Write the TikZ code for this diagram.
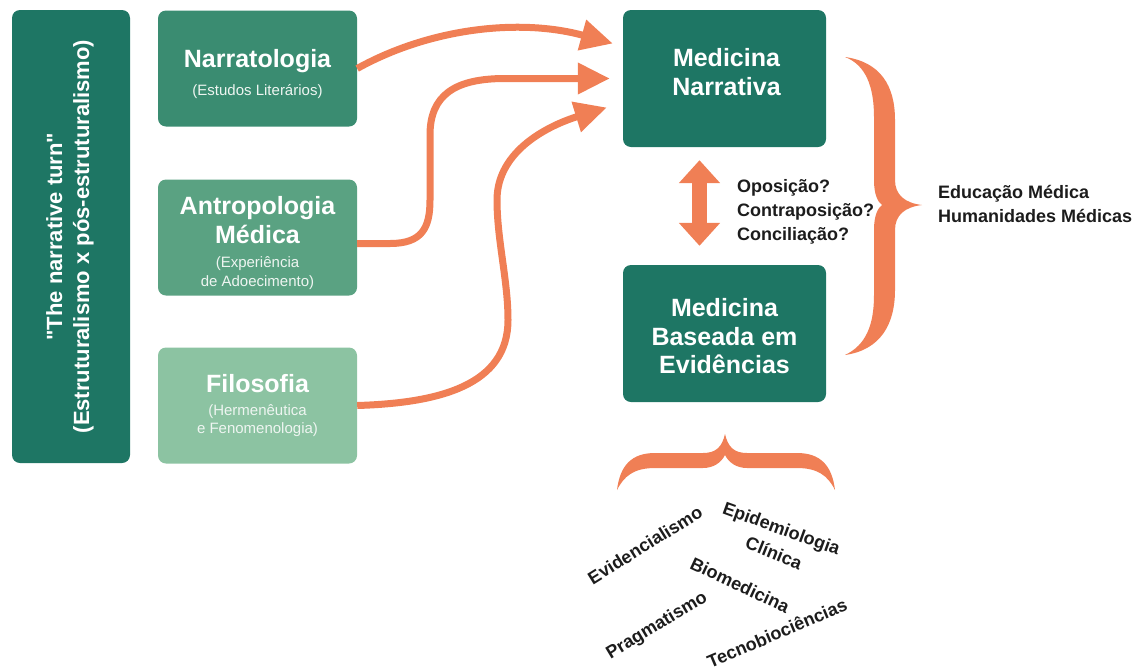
\documentclass[tikz,border=0pt]{standalone}
\usepackage{fontspec}
\setmainfont{Liberation Sans}
\usetikzlibrary{arrows.meta,calc}

\definecolor{deepteal}{HTML}{1E7664}
\definecolor{narrgreen}{HTML}{3A8C71}
\definecolor{antrgreen}{HTML}{5AA282}
\definecolor{filogreen}{HTML}{8CC3A2}
\definecolor{flame}{HTML}{F07F55}
\definecolor{ink}{HTML}{1C1C1C}
\definecolor{paletext}{HTML}{EEF5F1}

\begin{document}
\begin{tikzpicture}[x=1pt,y=-1pt,
  panel/.style={rounded corners=8pt, inner sep=0pt, draw=none},
  paneltitle/.style={anchor=base, inner sep=0pt, text=white,
    font=\fontsize{25}{30}\selectfont\bfseries},
  panelsub/.style={anchor=base, inner sep=0pt, text=paletext,
    font=\fontsize{15}{20}\selectfont},
  remark/.style={anchor=base west, inner sep=0pt, text=ink,
    font=\fontsize{18}{24}\selectfont\bfseries},
  tagword/.style={inner sep=0pt, text=ink,
    font=\fontsize{18}{22}\selectfont\bfseries},
  flow/.style={draw=flame, line width=7pt,
    -{Triangle[length=32pt,width=30pt]}},
  twoway/.style={draw=flame, line width=15pt,
    {Triangle[length=23pt,width=40pt]}-{Triangle[length=23pt,width=40pt]}},
]
\useasboundingbox (0,0) rectangle (1146,670);

% ---- left column: the narrative turn ----
\node[panel, fill=deepteal, rotate=90, minimum width=453pt, minimum height=118pt]
  (turn) at (71,236.5) {};
\node[rotate=90, align=center, inner sep=0pt, text=white,
  font=\fontsize{22}{27}\selectfont\bfseries]
  (turn-text) at ($(turn.center)+(-1,0)$)
  {\textquotedbl The narrative turn\textquotedbl\\(Estruturalismo x pós-estruturalismo)};

% ---- source disciplines ----
\node[panel, fill=narrgreen, minimum width=199pt, minimum height=116pt]
  (narr) at (257.5,68.5) {};
\node[paneltitle] (narr-t) at ($(narr.center)+(0,-1.5)$) {Narratologia};
\node[panelsub]   (narr-s) at ($(narr.center)+(0,26.5)$) {(Estudos Literários)};

\node[panel, fill=antrgreen, minimum width=199pt, minimum height=116pt]
  (antr) at (257.5,237.5) {};
\node[paneltitle] (antr-t1) at ($(antr.center)+(0,-23.5)$) {Antropologia};
\node[paneltitle] (antr-t2) at ($(antr.center)+(0,5.5)$) {Médica};
\node[panelsub]   (antr-s1) at ($(antr.center)+(0,29.5)$) {(Experiência};
\node[panelsub]   (antr-s2) at ($(antr.center)+(0,48.5)$) {de Adoecimento)};

\node[panel, fill=filogreen, minimum width=199pt, minimum height=116pt]
  (filo) at (257.5,405.5) {};
\node[paneltitle] (filo-t)  at ($(filo.center)+(0,-13.5)$) {Filosofia};
\node[panelsub]   (filo-s1) at ($(filo.center)+(0,9.5)$) {(Hermenêutica};
\node[panelsub]   (filo-s2) at ($(filo.center)+(0,28)$) {e Fenomenologia)};

% ---- the two medicines ----
\node[panel, fill=deepteal, minimum width=203pt, minimum height=137pt]
  (mn) at (724.5,78.5) {};
\node[paneltitle] (mn-t1) at ($(mn.center)+(2,-12.5)$) {Medicina};
\node[paneltitle] (mn-t2) at ($(mn.center)+(2,16.5)$) {Narrativa};

\node[panel, fill=deepteal, minimum width=203pt, minimum height=137pt]
  (mbe) at (724.5,333.5) {};
\node[paneltitle] (mbe-t1) at ($(mbe.center)+(0,-17.5)$) {Medicina};
\node[paneltitle] (mbe-t2) at ($(mbe.center)+(0,11.5)$) {Baseada em};
\node[paneltitle] (mbe-t3) at ($(mbe.center)+(0,39.5)$) {Evidências};

% ---- flows into narrative medicine ----
\draw[flow] (narr.east) .. controls (430,28) and (520,18) ..
  ($(mn.west)+(-10,-35)$);
\draw[flow] ($(antr.east)+(0,6)$) -- (390,243.5)
  .. controls (422,243.5) and (430,228) .. (430,200) -- (430,135)
  .. controls (430,95) and (455,78.5) .. (505,78.5)
  -- ($(mn.west)+(-13,0)$);
\draw[flow] (filo.east) .. controls (440,403) and (508,385) .. (508,320)
  .. controls (508,280) and (497,240) .. (497,200)
  .. controls (497,150) and (550,125) .. ($(mn.west)+(-16,29)$);

% ---- relation between the two ----
\draw[twoway] ($(mn.south)+(-25,13)$) -- ($(mbe.north)+(-25,-19)$);
\node[remark] (q1) at (737,192) {Oposição?};
\node[remark] (q2) at (737,216) {Contraposição?};
\node[remark] (q3) at (737,240) {Conciliação?};

% ---- right brace ----
\fill[flame] (845,57) .. controls (880,62) and (895,85) .. (895,120)
  -- (895,180) .. controls (895,195) and (905,203) .. (922,205)
  .. controls (905,207) and (895,215) .. (895,230)
  -- (895,290) .. controls (895,325) and (880,350) .. (845,355)
  .. controls (866,345) and (874,325) .. (874,295)
  -- (874,230) .. controls (874,215) and (878,208) .. (882,205)
  .. controls (878,202) and (874,195) .. (874,180)
  -- (874,117) .. controls (874,87) and (866,65) .. (845,57) -- cycle;
\node[remark] (edu) at (938,198) {Educação Médica};
\node[remark] (hum) at (938,222) {Humanidades Médicas};

% ---- bottom brace ----
\fill[flame] (617,490) .. controls (620,465) and (632,453) .. (655,453)
  -- (703,453) .. controls (716,453) and (722,447) .. (725,434)
  .. controls (728,447) and (734,453) .. (747,453)
  -- (797,453) .. controls (820,453) and (832,465) .. (835,490)
  .. controls (828,476) and (818,468) .. (797,468)
  -- (747,468) .. controls (737,468) and (729,463) .. (725,455)
  .. controls (721,463) and (713,468) .. (703,468)
  -- (655,468) .. controls (634,468) and (624,476) .. (617,490) -- cycle;

% ---- scattered foundations ----
\node[tagword, rotate=32]  (w1) at (645,545) {Evidencialismo};
\node[tagword, rotate=-20] (w2) at (781,530) {Epidemiologia};
\node[tagword, rotate=-22] (w3) at (774,553) {Clínica};
\node[tagword, rotate=-25] (w4) at (740,585) {Biomedicina};
\node[tagword, rotate=31]  (w5) at (657,626) {Pragmatismo};
\node[tagword, rotate=23]  (w6) at (777,633) {Tecnobiociências};
\end{tikzpicture}
\end{document}
